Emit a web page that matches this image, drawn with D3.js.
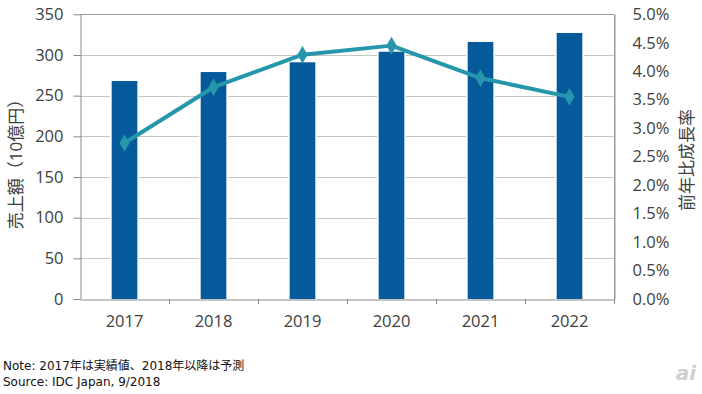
<!DOCTYPE html>
<html><head><meta charset="utf-8">
<script src="https://cdn.jsdelivr.net/npm/d3@7"></script>
<style>body{margin:0;background:#fff;} svg{display:block;}</style>
</head><body>
<svg id="c" width="702" height="394"></svg>
<script>
const years = ["2017","2018","2019","2020","2021","2022"];
const sales = [268, 279, 291, 304, 316, 327];
const growth = [2.74, 3.72, 4.29, 4.45, 3.88, 3.55];
const leftTicks = [0,50,100,150,200,250,300,350];
const rightTicks = [0,0.5,1,1.5,2,2.5,3,3.5,4,4.5,5];
const leftTitle = "売上額（10億円）";
const rightTitle = "前年比成長率";
const notes = ["Note: 2017年は実績値、2018年以降は予測", "Source: IDC Japan, 9/2018"];

const svg = d3.select("#c");
const L = 80, R = 614, T = 14.3, B = 299;
const x = d3.scaleBand().domain(years).range([L, R]).paddingInner(0.712).paddingOuter(0.356);
const xc = d3.scaleBand().domain(years).range([L, R]);
const y = d3.scaleLinear().domain([0, 350]).range([B, T]);
const y2 = d3.scaleLinear().domain([0, 5]).range([B, T]);
const font = "'Open Sans', 'Noto Sans CJK JP', sans-serif";
const tcol = "#404040";

// gridlines
svg.append("g").selectAll("line").data(leftTicks.slice(1)).join("line")
  .attr("x1", L).attr("x2", R).attr("y1", d => Math.round(y(d)) + 0.5).attr("y2", d => Math.round(y(d)) + 0.5)
  .attr("stroke", d => d === 350 ? "#9a9a9a" : "#c6c6c6").attr("stroke-width", 1);
// right border
svg.append("line").attr("x1", R + 0.5).attr("x2", R + 0.5).attr("y1", T).attr("y2", B).attr("stroke", "#9a9a9a");

// bars (white halo then fill)
svg.append("g").selectAll("rect").data(years).join("rect")
  .attr("x", d => x(d)).attr("width", x.bandwidth())
  .attr("y", (d, i) => y(sales[i])).attr("height", (d, i) => B - y(sales[i]))
  .attr("fill", "#045a9a").attr("stroke", "#ffffff").attr("stroke-width", 3);
svg.append("g").selectAll("rect").data(years).join("rect")
  .attr("x", d => x(d)).attr("width", x.bandwidth())
  .attr("y", (d, i) => y(sales[i])).attr("height", (d, i) => B - y(sales[i]))
  .attr("fill", "#045a9a");

// left axis
const ga = svg.append("g").attr("transform", `translate(${L + 0.5},0)`)
  .call(d3.axisLeft(y).tickValues(leftTicks).tickSize(7).tickSizeOuter(0).tickPadding(10));
ga.select(".domain").attr("stroke", "#8a8a8a");
ga.selectAll(".tick line").attr("stroke", "#8a8a8a");
ga.selectAll("text").attr("font-family", font).attr("font-size", 16.5).attr("fill", tcol);

// right axis
const gr = svg.append("g").attr("transform", `translate(${R + 0.5},0)`)
  .call(d3.axisRight(y2).tickValues(rightTicks).tickSize(0).tickSizeOuter(0).tickPadding(18).tickFormat(d => d.toFixed(1) + "%"));
gr.select(".domain").attr("stroke", "#9a9a9a");
gr.selectAll("text").attr("font-family", font).attr("font-size", 16.5).attr("fill", tcol);

// x axis
const gx = svg.append("g").attr("transform", `translate(0,${B + 0.5})`)
  .call(d3.axisBottom(xc).tickSize(0).tickPadding(16));
gx.select(".domain").attr("stroke", "#8a8a8a");
gx.selectAll("text").attr("font-family", font).attr("font-size", 16.5).attr("fill", tcol);
svg.append("g").selectAll("line").data(years.slice(1)).join("line")
  .attr("x1", d => Math.round(xc(d)) + 0.5).attr("x2", d => Math.round(xc(d)) + 0.5)
  .attr("y1", B).attr("y2", B + 5).attr("stroke", "#8a8a8a");
svg.append("line").attr("x1", R + 0.5).attr("x2", R + 0.5).attr("y1", B).attr("y2", B + 5).attr("stroke", "#8a8a8a");

// line
const cx = d => xc(d) + xc.bandwidth() / 2;
svg.append("path").datum(years)
  .attr("d", d3.line().x(cx).y((d, i) => y2(growth[i])))
  .attr("fill", "none").attr("stroke", "#2596ab").attr("stroke-width", 4).attr("stroke-linejoin", "round");
svg.append("g").selectAll("path").data(years).join("path")
  .attr("d", d3.symbol(d3.symbolDiamond, 90))
  .attr("transform", (d, i) => `translate(${cx(d)},${y2(growth[i])})`)
  .attr("fill", "#2596ab");

// titles
svg.append("text").attr("transform", "translate(22,160) rotate(-90)")
  .attr("text-anchor", "middle").attr("font-family", font).attr("font-size", 17).attr("fill", tcol).text(leftTitle);
svg.append("text").attr("transform", "translate(693,160) rotate(-90)")
  .attr("text-anchor", "middle").attr("font-family", font).attr("font-size", 17).attr("fill", tcol).text(rightTitle);

// notes
svg.append("g").selectAll("text").data(notes).join("text")
  .attr("x", 3).attr("y", (d, i) => 370 + i * 16)
  .attr("font-family", "'DejaVu Sans', 'Noto Sans CJK JP', sans-serif").attr("font-size", 12).attr("fill", "#111").text(d => d);

// logo
svg.append("text").attr("x", 686).attr("y", 380).attr("text-anchor", "middle")
  .attr("font-family", "'DejaVu Sans', sans-serif").attr("font-size", 20).attr("font-style", "italic").attr("font-weight", "bold")
  .attr("fill", "#cfcfcf").text("ai");
</script>
</body></html>
